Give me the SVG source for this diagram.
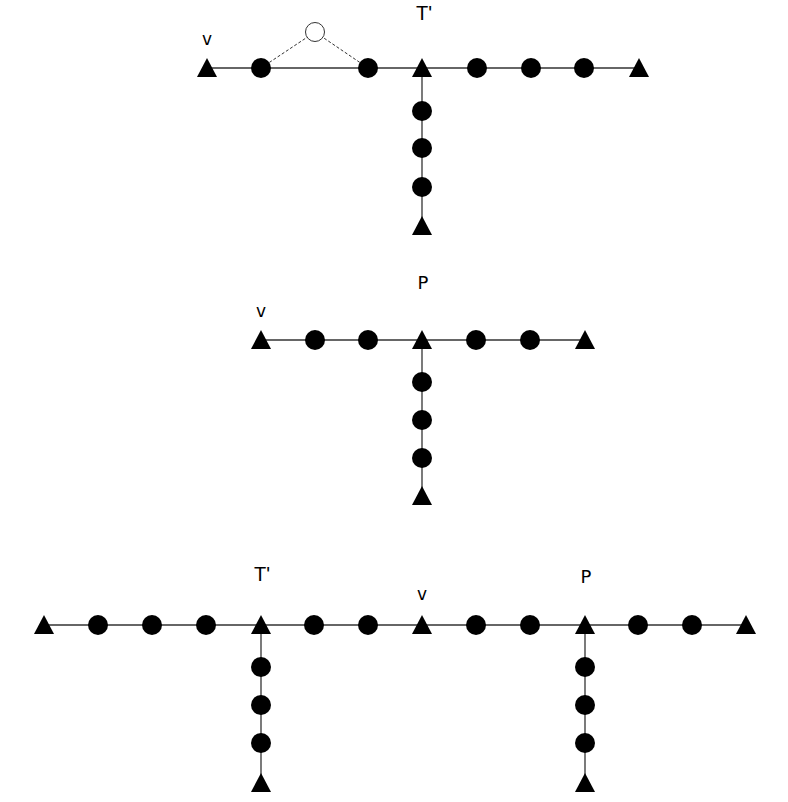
<svg xmlns="http://www.w3.org/2000/svg" width="788" height="802" viewBox="0 0 788 802">
<style>
.e{stroke:#333;stroke-width:1.3;fill:none}
.d{stroke:#333;stroke-width:1;stroke-dasharray:3,2;fill:none}
.c{fill:#000}
.h{fill:#fff;stroke:#333;stroke-width:1}
.t{fill:#000}
text{font-family:"DejaVu Sans",sans-serif;font-size:17px;text-anchor:middle;fill:#000}
text.tp{font-family:"Liberation Sans",Arial,sans-serif;font-size:20px}
text.p{font-size:18px}
</style>
<defs>
<circle id="dot" r="10" class="c"/>
<polygon id="tri" points="0,-10 10,9 -10,9" class="t"/>
</defs>
<rect width="788" height="802" fill="#fff"/>
<g id="connectors">
<line class="e" x1="207" y1="68" x2="639" y2="68"/>
<line class="e" x1="422" y1="68" x2="422" y2="226"/>
<line class="d" x1="261" y1="68" x2="315" y2="32"/>
<line class="d" x1="368" y1="68" x2="315" y2="32"/>
<line class="e" x1="261" y1="340" x2="585" y2="340"/>
<line class="e" x1="422" y1="340" x2="422" y2="496"/>
<line class="e" x1="44" y1="625" x2="746" y2="625"/>
<line class="e" x1="261" y1="625" x2="261" y2="783"/>
<line class="e" x1="585" y1="625" x2="585" y2="783"/>
</g>
<g id="top">
<g id="t1"><use href="#tri" x="207" y="68"/></g>
<g id="t2"><use href="#dot" x="261" y="68"/></g>
<g id="t3"><circle cx="315" cy="32" r="9.5" class="h"/></g>
<g id="t4"><use href="#dot" x="368" y="68"/></g>
<g id="t5"><use href="#tri" x="422" y="68"/></g>
<g id="t6"><use href="#dot" x="477" y="68"/></g>
<g id="t7"><use href="#dot" x="531" y="68"/></g>
<g id="t8"><use href="#dot" x="584" y="68"/></g>
<g id="t9"><use href="#tri" x="639" y="68"/></g>
<g id="t10"><use href="#dot" x="422" y="111"/></g>
<g id="t11"><use href="#dot" x="422" y="148"/></g>
<g id="t12"><use href="#dot" x="422" y="187"/></g>
<g id="t13"><use href="#tri" x="422" y="226"/></g>
<text x="207" y="45">v</text>
<text class="tp" x="424" y="20">T'</text>
</g>
<g id="middle">
<g id="m1"><use href="#tri" x="261" y="340"/></g>
<g id="m2"><use href="#dot" x="315" y="340"/></g>
<g id="m3"><use href="#dot" x="368" y="340"/></g>
<g id="m4"><use href="#tri" x="422" y="340"/></g>
<g id="m5"><use href="#dot" x="476" y="340"/></g>
<g id="m6"><use href="#dot" x="530" y="340"/></g>
<g id="m7"><use href="#tri" x="585" y="340"/></g>
<g id="m8"><use href="#dot" x="422" y="382"/></g>
<g id="m9"><use href="#dot" x="422" y="420"/></g>
<g id="m10"><use href="#dot" x="422" y="458"/></g>
<g id="m11"><use href="#tri" x="422" y="496"/></g>
<text x="261" y="317">v</text>
<text class="p" x="423" y="289">P</text>
</g>
<g id="bottom">
<g id="b1"><use href="#tri" x="44" y="625"/></g>
<g id="b2"><use href="#dot" x="98" y="625"/></g>
<g id="b3"><use href="#dot" x="152" y="625"/></g>
<g id="b4"><use href="#dot" x="206" y="625"/></g>
<g id="b5"><use href="#tri" x="261" y="625"/></g>
<g id="b6"><use href="#dot" x="314" y="625"/></g>
<g id="b7"><use href="#dot" x="368" y="625"/></g>
<g id="b8"><use href="#tri" x="422" y="625"/></g>
<g id="b9"><use href="#dot" x="476" y="625"/></g>
<g id="b10"><use href="#dot" x="530" y="625"/></g>
<g id="b11"><use href="#tri" x="585" y="625"/></g>
<g id="b12"><use href="#dot" x="638" y="625"/></g>
<g id="b13"><use href="#dot" x="692" y="625"/></g>
<g id="b14"><use href="#tri" x="746" y="625"/></g>
<g id="b15"><use href="#dot" x="261" y="667"/></g>
<g id="b16"><use href="#dot" x="261" y="705"/></g>
<g id="b17"><use href="#dot" x="261" y="743"/></g>
<g id="b18"><use href="#tri" x="261" y="783"/></g>
<g id="b19"><use href="#dot" x="585" y="667"/></g>
<g id="b20"><use href="#dot" x="585" y="705"/></g>
<g id="b21"><use href="#dot" x="585" y="743"/></g>
<g id="b22"><use href="#tri" x="585" y="783"/></g>
<text class="tp" x="262" y="581">T'</text>
<text x="422" y="600">v</text>
<text class="p" x="586" y="583">P</text>
</g>
</svg>
